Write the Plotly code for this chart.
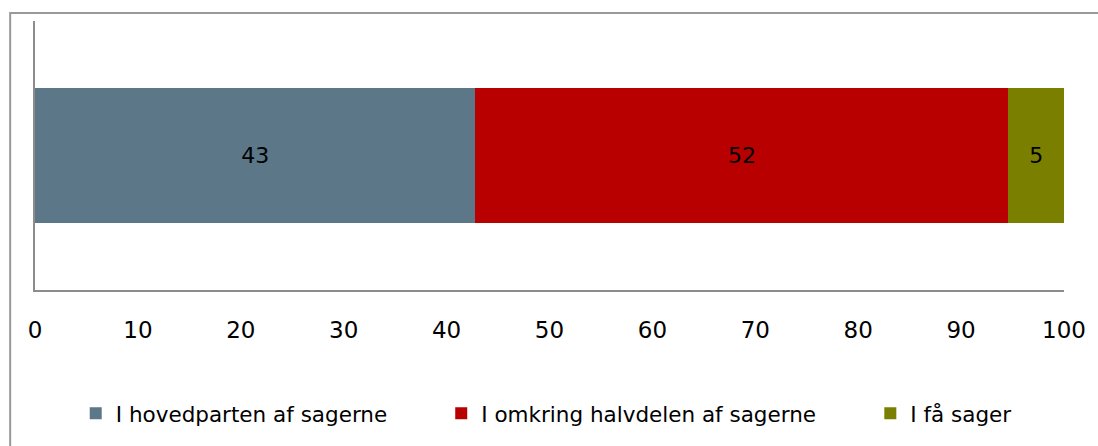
import plotly.graph_objects as go

categories = [""]
series_names = ["I hovedparten af sagerne", "I omkring halvdelen af sagerne", "I få sager"]
series_values = [[42.8], [51.8], [5.4]]
series_labels = ["43", "52", "5"]
colors = ["#5B7788", "#B80000", "#7A7F00"]
tick_vals = [0, 10, 20, 30, 40, 50, 60, 70, 80, 90, 100]

W, H = 1098, 446
ml, mr, mt, mb = 35, 27, 21, 152
pw, ph = W - ml - mr, H - mt - mb

def px_x(p):
    return (p - ml) / pw

def px_y(p):
    return (H - mb - p) / ph

legend_ids = ["legend", "legend2", "legend3"]
legend_text_x = [116, 484, 916]

fig = go.Figure()
for i, name in enumerate(series_names):
    fig.add_trace(go.Bar(
        y=[0], x=series_values[i], orientation="h", name=name,
        marker=dict(color=colors[i], line=dict(width=0)),
        text=[series_labels[i]], textposition="inside", insidetextanchor="middle",
        textfont=dict(family="DejaVu Sans", size=22, color="black"),
        width=0.505, legend=legend_ids[i], hoverinfo="x+name",
    ))

layout_legends = {}
for i, lid in enumerate(legend_ids):
    layout_legends[lid] = dict(
        x=px_x(legend_text_x[i] - 40), y=px_y(419), xanchor="left", yanchor="middle",
        orientation="h", font=dict(family="DejaVu Sans", size=21.5, color="black"),
        bgcolor="rgba(0,0,0,0)", borderwidth=0, itemwidth=30,
    )

fig.update_layout(
    width=W, height=H, barmode="stack",
    margin=dict(l=ml, r=mr, t=mt, b=mb, pad=0),
    paper_bgcolor="white", plot_bgcolor="white",
    showlegend=True,
    xaxis=dict(range=[0, 100], tickvals=tick_vals, showgrid=False, zeroline=False,
               showline=True, linecolor="#8C8C8C", linewidth=2, ticks="",
               tickfont=dict(family="DejaVu Sans", size=23, color="black"),
               ticklabelstandoff=18, fixedrange=True),
    yaxis=dict(range=[-0.5, 0.5], showticklabels=False, showgrid=False, zeroline=False,
               showline=True, linecolor="#8C8C8C", linewidth=2, ticks="", fixedrange=True),
    shapes=[dict(type="rect", xref="paper", yref="paper",
                 x0=px_x(10), x1=px_x(W + 20), y0=px_y(H + 20), y1=px_y(13),
                 line=dict(color="#999999", width=2), fillcolor="rgba(0,0,0,0)", layer="below")],
    **layout_legends,
)

fig.write_html("out.html", config={"displayModeBar": False},
               post_script="document.body.style.margin='0px';document.body.style.overflow='hidden';")
